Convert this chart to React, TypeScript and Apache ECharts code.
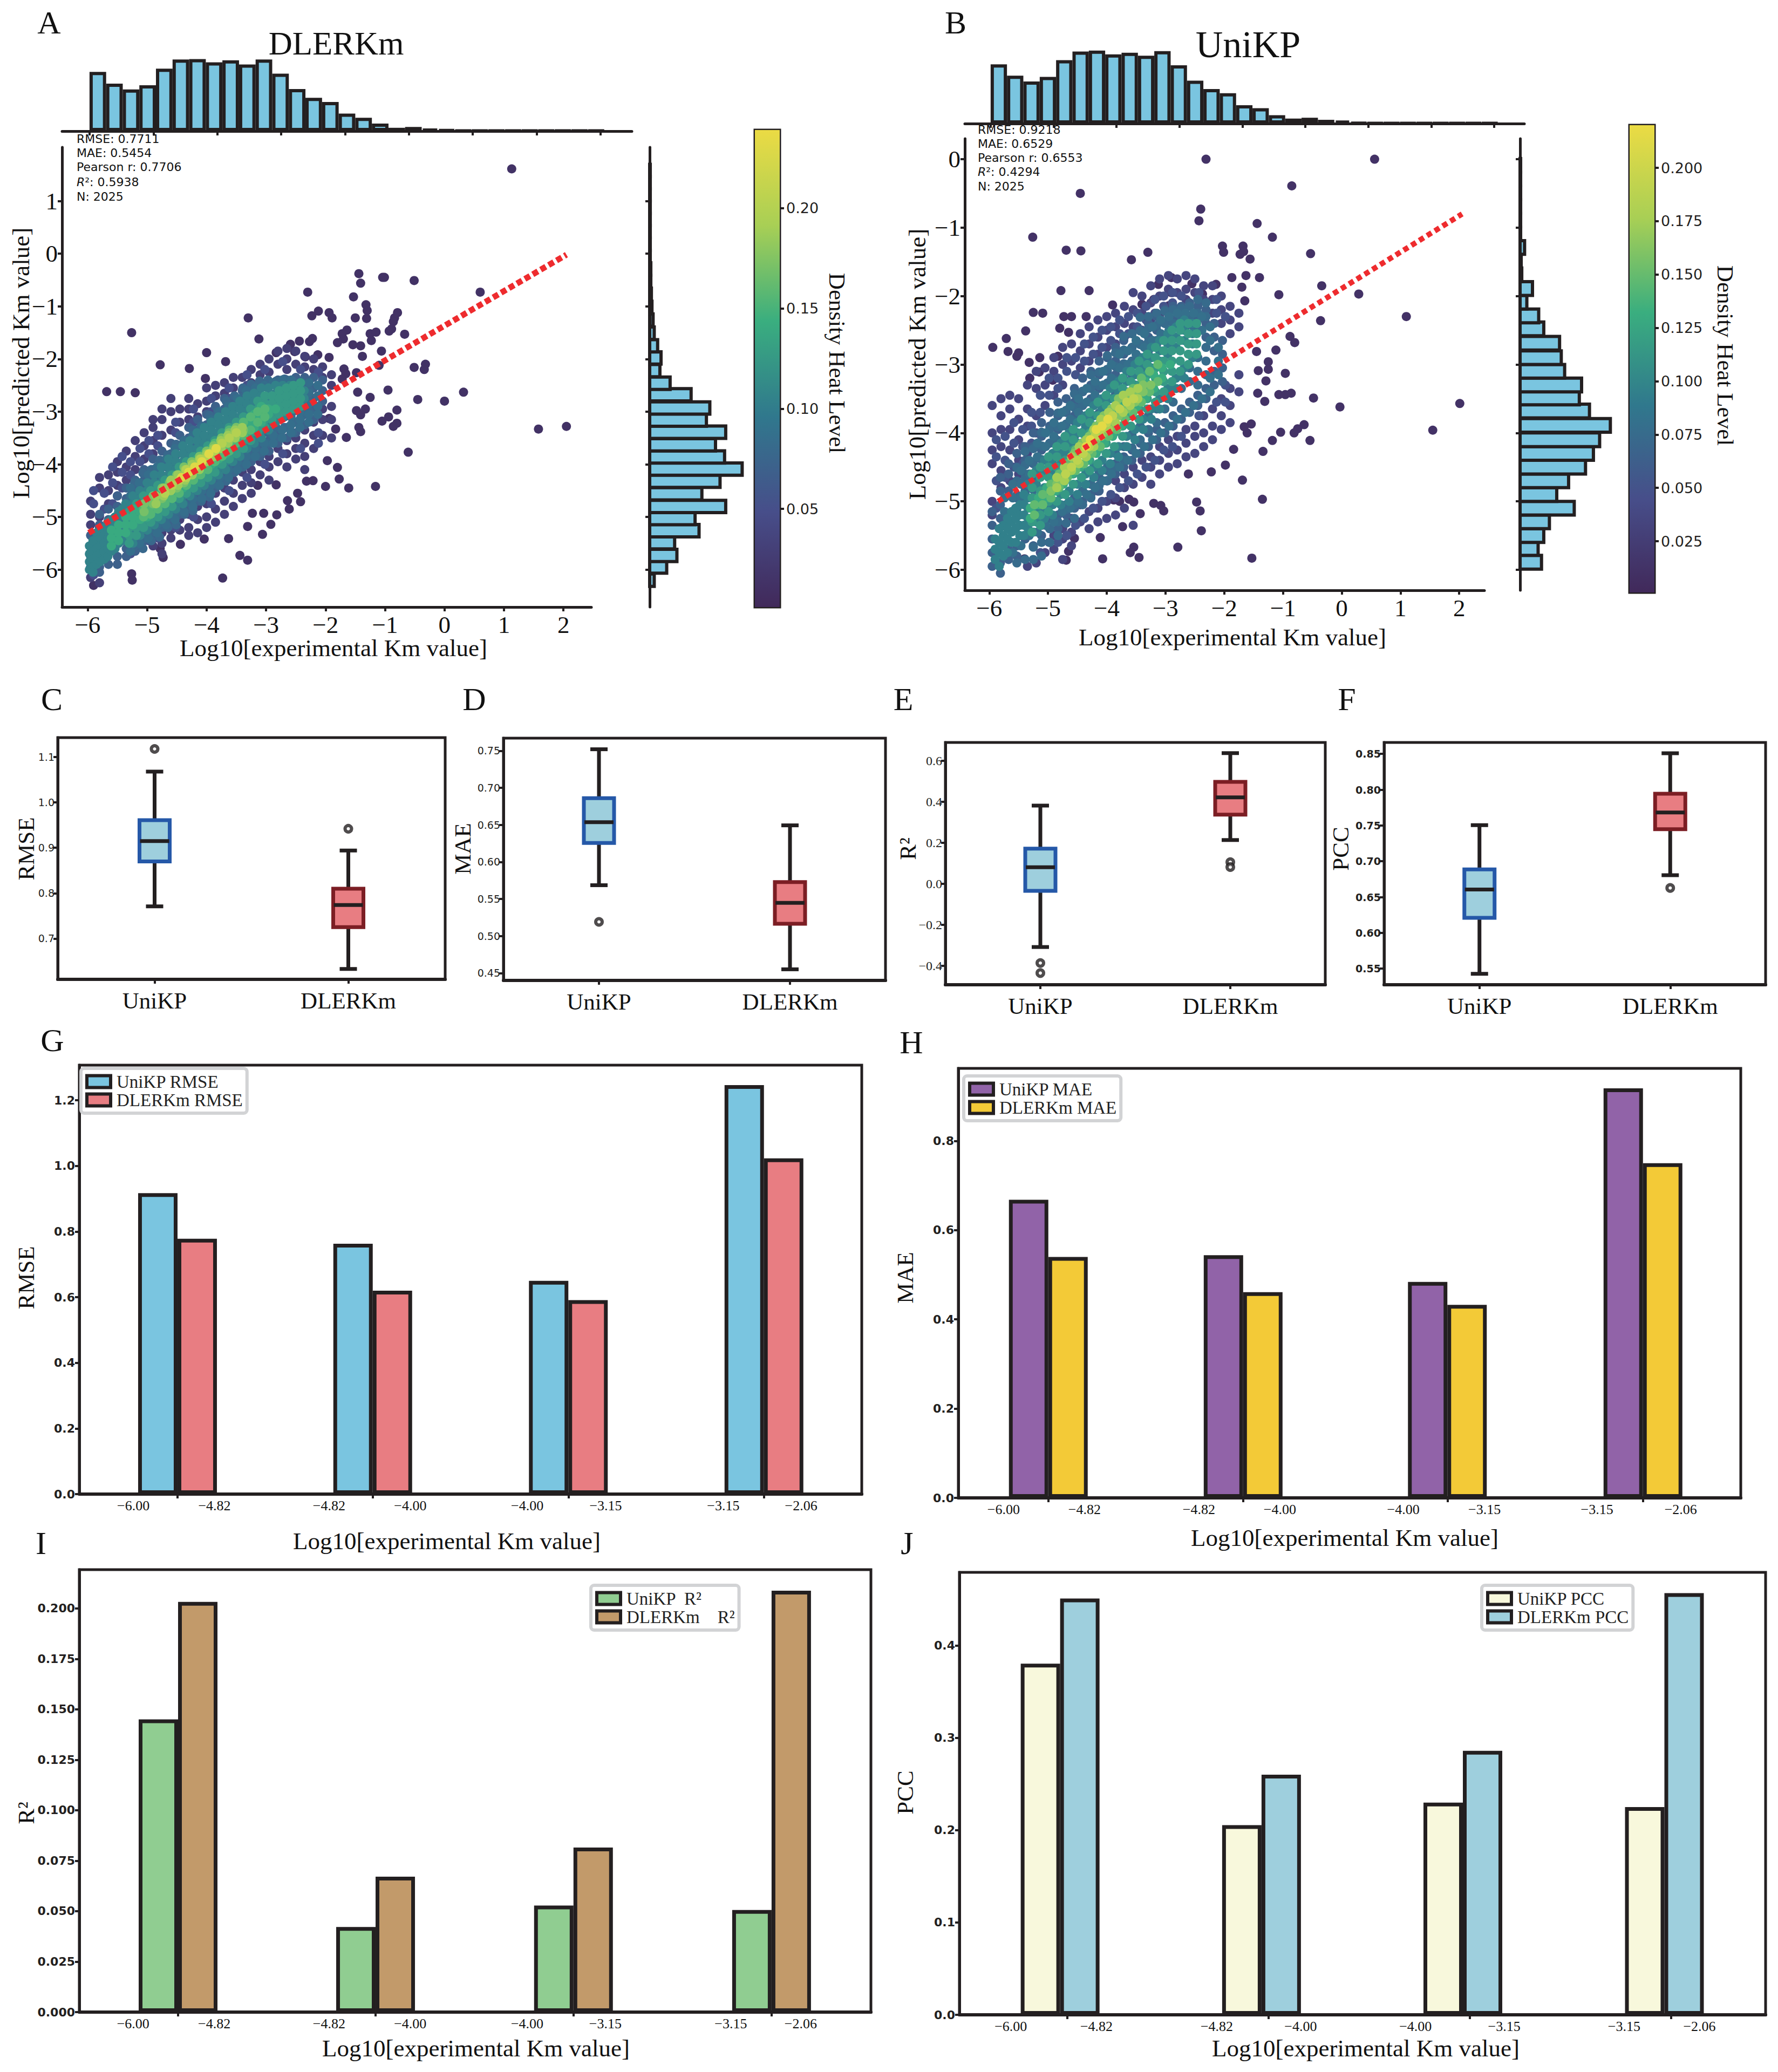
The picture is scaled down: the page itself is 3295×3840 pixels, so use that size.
import React, { useEffect, useRef } from 'react';
import * as echarts from 'echarts';

const INK = '#231f20';
const SERIF = 'Liberation Serif';
const SANS = 'DejaVu Sans';
const HIST = '#7ac5e0';
const VIRIDIS = ['#41295a', '#474e8a', '#30788d', '#3aae7f', '#a8cf55', '#ebdb44'];

// marginal histograms
const aTopBins = [-5.87, -5.61, -5.35, -5.09, -4.83, -4.57, -4.31, -4.05, -3.79, -3.53, -3.27, -3.01, -2.75, -2.49, -2.23, -1.97, -1.71, -1.45, -1.19, -0.93, -0.67, -0.41, -0.15, 0.11, 0.37, 0.63, 0.89, 1.15, 1.41, 1.67, 1.93];
const aTopCounts = [142, 114, 100, 110, 150, 172, 173, 165, 170, 160, 172, 138, 101, 80, 70, 42, 32, 18, 8, 10, 5, 3, 1, 1, 1, 1, 1, 1, 1, 1, 1];
const bTopCounts = [142, 115, 101, 112, 152, 173, 175, 166, 170, 163, 174, 140, 103, 83, 73, 44, 37, 20, 12, 14, 9, 7, 2, 1, 1, 1, 1, 1, 1, 1, 1];
const aRightBins = [-6.2, -5.95, -5.73, -5.49, -5.26, -5.03, -4.8, -4.56, -4.32, -4.09, -3.86, -3.63, -3.39, -3.16, -2.93, -2.68, -2.46, -2.22, -1.98, -1.75, -1.51, -1.26, -1.02, -0.77, -0.53, -0.29, -0.05, 0.18, 0.42, 0.65, 0.88, 1.12, 1.35, 1.58];
const aRightCounts = [8, 30, 48, 44, 87, 80, 134, 92, 124, 163, 132, 116, 134, 100, 106, 73, 36, 18, 20, 14, 8, 6, 4, 3, 2, 2, 1, 1, 1, 1, 1, 1, 1, 1];
const bRightBins = [-5.89, -5.69, -5.5, -5.3, -5.1, -4.9, -4.7, -4.5, -4.3, -4.1, -3.89, -3.68, -3.49, -3.3, -3.1, -2.9, -2.69, -2.48, -2.29, -2.09, -1.89, -1.69, -1.49, -1.29, -1.09, -0.89, -0.69, -0.49, -0.29, -0.09];
const bRightCounts = [38, 32, 42, 52, 96, 65, 86, 116, 130, 141, 160, 123, 105, 109, 79, 73, 70, 42, 33, 12, 22, 3, 2, 8, 1, 1, 1, 1, 1, 1];

// regression lines
const aFit = [[-5.98, -5.3], [2.05, -0.02]];
const bFit = [[-5.85, -5.0], [2.05, -0.8]];

// scatter A: isolated points
const aOutliers = [[1.13, 1.61], [0.6, -0.73], [-0.51, -0.51], [-1.04, -0.45], [-1.01, -0.45], [-1.44, -0.38], [-1.41, -0.56], [-2.3, -0.73], [-1.53, -0.82], [-1.32, -0.97], [-1.3, -1.08], [-0.79, -1.12], [-0.84, -1.22], [-0.86, -1.29], [-1.31, -1.23], [-1.5, -1.22], [-2.12, -1.09], [-2.23, -1.18], [-1.94, -1.12], [-1.89, -1.22], [-3.3, -1.22], [-5.26, -1.5], [-3.12, -1.62], [-1.64, -1.45], [-1.72, -1.52], [-1.25, -1.52], [-1.15, -1.49], [-0.89, -1.43], [-0.93, -1.47], [-0.67, -1.53], [-1.23, -1.65], [-1.7, -1.62], [-1.8, -1.69], [-1.54, -1.73], [-1.41, -1.75], [-1.38, -1.95], [-1.06, -1.85], [-1.1, -2.12], [-0.51, -2.16], [-0.32, -2.1], [-0.34, -2.2], [-4.78, -2.11], [-4.29, -2.18], [-4.0, -1.88], [-3.68, -2.05], [-4.02, -2.37], [-2.83, -1.88], [-2.59, -1.72], [-2.44, -1.66], [-2.27, -1.67], [-2.22, -1.61], [-2.52, -1.86], [-2.13, -1.92], [-2.34, -1.96], [-1.94, -1.97], [-1.69, -2.19], [-1.66, -2.28], [-1.72, -2.38], [-1.48, -2.26], [-0.95, -2.59], [-0.45, -2.77], [0.0, -2.8], [0.32, -2.63], [-1.25, -2.73], [-1.46, -2.63], [-1.33, -2.95], [-0.8, -2.97], [-0.94, -3.1], [-1.05, -3.18], [-0.8, -3.22], [-0.86, -3.28], [-1.48, -2.98], [-1.41, -3.06], [-1.44, -3.3], [-1.41, -3.38], [1.58, -3.33], [2.05, -3.28], [-0.61, -3.77], [-1.16, -4.42], [-1.61, -4.45], [-1.77, -4.28], [-2.0, -4.42], [-1.8, -4.06], [-1.97, -3.93], [-1.65, -3.49], [-1.83, -3.33], [-1.94, -3.13], [-3.73, -6.16], [-3.44, -5.73], [-3.31, -5.82], [-5.26, -6.08], [-5.25, -6.2], [-3.63, -5.41], [-3.06, -5.33], [-3.31, -5.18], [-4.04, -5.42], [-4.44, -5.52], [-4.78, -5.6], [-4.73, -5.77], [-3.23, -4.93], [-2.92, -5.14], [-2.82, -4.96], [-3.04, -4.93], [-2.61, -4.85], [-2.42, -4.71], [-2.64, -4.69], [-2.47, -4.55], [-2.83, -4.39], [-3.14, -4.4], [-2.32, -4.32], [-2.21, -4.31], [-5.9, -6.3], [-5.68, -2.62], [-5.45, -2.62], [-5.2, -2.64]];
// scatter A: columns of [x, y, y, ...], by density level
const aRows030 = [[-5.95, -4.7, -4.95, -5.15, -6.15], [-5.8, -4.25, -4.45, -5.0, -5.2, -6.25], [-5.65, -4.2, -4.5, -4.75], [-5.5, -3.95, -4.15, -4.4, -4.6], [-5.35, -3.75, -4.05, -4.3], [-5.2, -3.55, -3.85, -4.1, -4.35], [-5.05, -3.4, -3.65, -3.9, -5.45], [-4.9, -3.15, -3.3, -3.55, -3.8, -5.55], [-4.75, -2.95, -3.15, -3.45, -5.3, -5.5, -5.7], [-4.6, -2.75, -3.0, -3.35, -5.25, -5.4], [-4.45, -2.95, -3.2, -5.05, -5.25], [-4.3, -2.75, -2.95, -3.15, -4.95, -5.2, -5.35], [-4.15, -2.85, -3.1, -4.8, -5.05, -5.3], [-4.0, -2.55, -2.8, -3.0, -4.75, -5.0, -5.2], [-3.85, -2.5, -2.7, -4.55, -4.85, -5.1], [-3.7, -2.45, -2.65, -4.45, -4.7, -4.95], [-3.55, -2.35, -2.55, -4.3, -4.55, -4.8], [-3.4, -2.35, -4.15, -4.4, -4.65], [-3.25, -2.2, -2.45, -4.1, -4.35, -4.55], [-3.1, -2.1, -2.3, -3.95, -4.2], [-2.95, -2.0, -2.25, -3.85, -4.05, -4.3], [-2.8, -1.85, -2.1, -3.7, -3.95], [-2.65, -1.8, -2.0, -2.2, -3.55, -3.8, -4.05], [-2.5, -1.85, -2.1, -3.5, -3.7, -3.9], [-2.35, -1.95, -2.15, -3.35, -3.6, -3.85, -4.1], [-2.2, -2.0, -2.2, -3.2, -3.45, -3.7], [-2.05, -2.15, -2.35, -2.95, -3.15, -3.45], [-1.9, -2.3, -2.5, -2.9, -3.15, -3.5]];
const aRows050 = [[-5.9, -4.5, -4.75, -6.1], [-5.72, -4.55, -4.85], [-5.58, -4.05, -4.35, -4.75], [-5.42, -3.85, -4.15, -4.45], [-5.28, -3.95, -4.2, -5.7], [-5.12, -3.7, -3.95, -5.55], [-4.97, -3.55, -3.8, -5.45], [-4.82, -3.45, -3.65, -5.4], [-4.52, -3.2, -3.4, -5.2], [-4.22, -2.95, -3.2, -5.0], [-3.92, -2.75, -3.0, -4.75], [-3.62, -2.55, -2.75, -4.5], [-3.32, -2.3, -2.5, -4.25], [-3.02, -2.2, -4.0], [-2.72, -2.05, -3.8], [-2.42, -2.2, -3.7], [-2.12, -2.25, -3.4, -3.6]];
const aRows070 = [[-5.95, -5.35, -5.55, -5.75, -5.95], [-5.8, -4.95, -5.15, -5.45, -5.95, -6.05], [-5.65, -4.85, -5.05, -5.9], [-5.5, -4.6, -4.8, -5.75, -5.9], [-5.35, -4.45, -4.65, -5.6, -5.75], [-5.2, -4.3, -4.5, -5.5, -5.65], [-5.05, -4.1, -4.3, -5.3, -5.45], [-4.9, -3.9, -4.1, -5.2, -5.35], [-4.75, -3.75, -3.95, -5.05, -5.2], [-4.6, -3.6, -3.8, -4.9, -5.1], [-4.45, -3.45, -3.65, -4.8, -4.95], [-4.3, -3.3, -3.5, -4.65, -4.8], [-4.15, -3.15, -3.35, -4.55, -4.7], [-4.0, -3.05, -3.25, -4.45, -4.6], [-3.85, -2.9, -3.1, -4.3, -4.45], [-3.7, -2.75, -2.95, -4.15, -4.3], [-3.55, -2.75, -2.95, -4.0, -4.15], [-3.4, -2.6, -2.8, -3.85, -4.0], [-3.25, -2.5, -2.7, -3.8, -3.95], [-3.1, -2.45, -3.65, -3.85], [-2.95, -2.45, -3.55, -3.75], [-2.8, -2.4, -3.4, -3.6], [-2.65, -2.4, -3.3, -3.5], [-2.5, -2.35, -3.2, -3.4], [-2.35, -2.35, -2.55, -3.05, -3.25], [-2.2, -2.35, -2.55, -2.75, -2.95, -3.15], [-2.05, -2.4, -2.6, -2.8]];
const aRows078 = [[-5.21, -4.75, -4.55, -4.35, -5.55], [-5.07, -4.57, -4.37, -4.17, -5.42, -5.6], [-4.93, -4.5, -4.3, -4.1, -5.3, -5.45], [-4.79, -4.32, -4.12, -3.92, -5.2, -5.38], [-4.65, -4.22, -4.02, -3.82, -5.02, -5.2], [-4.51, -4.02, -3.82, -3.62, -4.95, -5.15], [-4.37, -3.95, -3.75, -3.55, -4.75, -4.95], [-4.23, -3.75, -3.55, -3.35, -4.7, -4.88], [-4.09, -3.67, -3.47, -3.27, -4.5, -4.7], [-3.95, -3.47, -3.27, -3.07, -4.42, -4.62], [-3.81, -3.4, -3.2, -3.0, -4.2, -4.4], [-3.67, -3.2, -3.0, -2.8, -4.12, -4.32], [-3.53, -3.1, -2.9, -2.7, -3.95, -4.15], [-3.39, -2.9, -2.72, -2.55, -3.85, -4.05], [-3.25, -2.85, -2.65, -2.48, -3.65, -3.85], [-3.11, -2.6, -2.42, -3.58, -3.78], [-2.97, -2.55, -2.4, -3.4, -3.6], [-2.83, -2.42, -3.3, -3.5], [-2.69, -2.38, -3.1, -3.3], [-2.55, -2.42, -3.0, -3.2, -3.4], [-2.41, -2.42, -2.62, -2.9, -3.1], [-2.27, -2.6, -2.8, -3.0]];
const aRows085 = [[-5.28, -4.45, -4.6, -4.75, -5.5, -5.65], [-5.13, -4.35, -4.5, -5.35, -5.5], [-4.98, -4.2, -4.35, -5.25, -5.4], [-4.83, -4.05, -4.2, -5.15, -5.3], [-4.68, -3.9, -4.05, -5.0, -5.15], [-4.53, -3.7, -3.85, -4.9, -5.05], [-4.38, -3.55, -3.7, -4.75, -4.9], [-4.23, -3.45, -3.6, -4.65, -4.8], [-4.08, -3.3, -3.45, -4.5, -4.65], [-3.93, -3.15, -3.3, -4.4, -4.55], [-3.78, -3.0, -3.15, -4.25, -4.4], [-3.63, -2.9, -3.05, -4.1, -4.25], [-3.48, -2.75, -2.9, -3.95, -4.1], [-3.33, -2.6, -2.75, -3.85, -4.0], [-3.18, -2.55, -3.7, -3.85], [-3.03, -2.5, -3.6, -3.75], [-2.88, -2.45, -3.45, -3.6], [-2.73, -2.4, -3.35, -3.5], [-2.58, -2.4, -3.1, -3.25, -3.4], [-2.43, -2.45, -3.0, -3.15, -3.3], [-2.28, -2.45, -2.65, -2.85, -3.05, -3.2], [-2.13, -2.5, -2.7, -2.9, -3.05]];
const aRows105 = [[-5.97, -5.55, -5.7, -5.85, -6.0], [-5.91, -5.45, -5.65, -5.8, -5.95, -6.05], [-5.85, -5.3, -5.45, -5.6, -5.75, -5.9], [-5.79, -5.25, -5.4, -5.55, -5.7, -5.85], [-5.72, -5.2, -5.35, -5.5, -5.65, -5.8], [-5.66, -5.1, -5.25, -5.4, -5.6, -5.75], [-5.6, -5.05, -5.2, -5.35, -5.5, -5.65], [-5.54, -5.0, -5.15, -5.3, -5.45, -5.6], [-5.48, -4.9, -5.05, -5.2, -5.35, -5.5], [-5.42, -4.85, -5.0, -5.15, -5.3, -5.45], [-5.36, -4.75, -4.9, -5.05, -5.2, -5.35], [-5.24, -4.6, -4.75, -4.9, -5.25, -5.4, -5.5], [-5.12, -4.5, -4.65, -4.8, -5.2, -5.35], [-5.0, -4.35, -4.5, -4.65, -5.1, -5.25], [-4.88, -4.2, -4.35, -4.5, -5.0, -5.15], [-4.76, -4.05, -4.2, -4.35, -4.9, -5.05], [-4.64, -3.9, -4.05, -4.2, -4.8, -4.95], [-4.52, -3.8, -3.95, -4.1, -4.7, -4.85], [-4.4, -3.65, -3.8, -3.95, -4.6, -4.75], [-4.28, -3.55, -3.7, -3.85, -4.45, -4.6], [-4.16, -3.4, -3.55, -3.7, -4.35, -4.5], [-4.04, -3.3, -3.45, -3.6, -4.25, -4.4], [-3.92, -3.2, -3.35, -3.5, -4.15, -4.3], [-3.8, -3.1, -3.25, -3.4, -4.05, -4.2], [-3.68, -3.0, -3.15, -3.3, -3.95, -4.1], [-3.56, -2.9, -3.05, -3.2, -3.8, -3.95], [-3.44, -2.8, -2.95, -3.1, -3.7, -3.85], [-3.32, -2.7, -2.85, -3.0, -3.55, -3.7], [-3.2, -2.65, -2.8, -2.95, -3.45, -3.6], [-3.08, -2.55, -2.7, -3.35, -3.5], [-2.96, -2.55, -2.7, -2.85, -3.2, -3.35], [-2.84, -2.5, -2.65, -2.8, -3.05, -3.2], [-2.72, -2.5, -2.65, -2.8, -2.95, -3.1], [-2.6, -2.5, -2.65, -2.8, -2.95], [-2.48, -2.55, -2.7, -2.85], [-2.36, -2.6, -2.75]];
const aRows125 = [[-5.3, -5.5, -5.35, -5.2, -5.05, -4.9], [-5.18, -5.35, -5.2, -5.05, -4.9, -4.75], [-5.06, -5.2, -5.05, -4.9, -4.75, -4.6], [-4.94, -5.1, -4.95, -4.8, -4.65, -4.5], [-4.82, -5.0, -4.85, -4.7, -4.55, -4.4], [-4.7, -4.9, -4.75, -4.6, -4.45, -4.3], [-4.58, -4.8, -4.65, -4.5, -4.35, -4.2], [-4.46, -4.65, -4.5, -4.35, -4.2, -4.05], [-4.34, -4.55, -4.4, -4.25, -4.1, -3.95], [-4.22, -4.45, -4.3, -4.15, -4.0, -3.85], [-4.1, -4.35, -4.2, -4.05, -3.9, -3.75], [-3.98, -4.25, -4.1, -3.95, -3.8, -3.65], [-3.86, -4.15, -4.0, -3.85, -3.7, -3.55], [-3.74, -4.0, -3.85, -3.7, -3.55, -3.4], [-3.62, -3.9, -3.75, -3.6, -3.45, -3.3], [-3.5, -3.8, -3.65, -3.5, -3.35, -3.2], [-3.38, -3.7, -3.55, -3.4, -3.25, -3.1], [-3.26, -3.55, -3.4, -3.25, -3.1, -2.95], [-3.14, -3.4, -3.25, -3.1, -2.95, -2.8], [-3.02, -3.3, -3.15, -3.0, -2.85, -2.7], [-2.9, -3.15, -3.0, -2.85, -2.7], [-2.78, -3.05, -2.9, -2.75, -2.6], [-2.66, -3.0, -2.85, -2.7, -2.55], [-2.54, -2.95, -2.8, -2.65, -2.5], [-2.42, -2.9, -2.75, -2.6, -2.45]];
const aRows140 = [[-5.6, -5.55, -5.4, -5.25], [-5.48, -5.45, -5.3, -5.15], [-5.36, -5.3, -5.15, -5.0], [-5.24, -5.15, -5.0, -4.85], [-5.12, -5.05, -4.9], [-5.0, -5.0, -4.85, -4.75], [-4.88, -4.85, -4.7], [-4.76, -4.75, -4.55], [-4.64, -4.65, -4.5, -4.35], [-4.52, -4.55, -4.25], [-4.4, -4.45, -4.15], [-4.28, -4.3, -4.05], [-4.16, -4.2, -3.9], [-4.04, -4.1, -3.8], [-3.92, -4.0, -3.7], [-3.8, -3.9, -3.6], [-3.68, -3.8, -3.5], [-3.56, -3.65, -3.35], [-3.44, -3.55, -3.3], [-3.32, -3.4, -3.2], [-3.2, -3.3, -3.15, -3.05], [-3.08, -3.2, -3.05, -2.9], [-2.96, -3.05, -2.95], [-2.84, -2.95]];
const aRows155 = [[-5.06, -5.0, -4.85], [-4.94, -4.95, -4.8], [-4.82, -4.85, -4.7], [-4.7, -4.75, -4.6, -4.45], [-4.58, -4.65, -4.35], [-4.46, -4.55, -4.2], [-4.34, -4.4, -4.1], [-4.22, -4.3, -4.0], [-4.1, -4.2, -3.85], [-3.98, -4.1, -3.75], [-3.86, -3.95, -3.6], [-3.74, -3.85, -3.5], [-3.62, -3.75, -3.35], [-3.5, -3.6, -3.3], [-3.38, -3.45, -3.2], [-3.26, -3.35, -3.1], [-3.14, -3.2, -3.0], [-3.02, -3.1, -2.95]];
const aRows170 = [[-5.05, -4.75, -4.9], [-4.9, -4.6, -4.75], [-4.75, -4.65, -4.45], [-4.62, -4.5, -4.35], [-4.5, -4.45, -4.2], [-4.38, -4.35, -4.05], [-4.25, -4.2, -3.95], [-4.12, -4.05, -3.85], [-4.0, -3.95, -3.75], [-3.88, -3.85, -3.65], [-3.75, -3.7, -3.5], [-3.62, -3.55, -3.4], [-3.5, -3.45, -3.3], [-3.38, -3.35]];
const aRows185 = [[-4.85, -4.75, -4.6], [-4.72, -4.6, -4.45], [-4.6, -4.5, -4.3], [-4.48, -4.4, -4.2], [-4.36, -4.3, -4.1], [-4.24, -4.2, -4.0], [-4.12, -4.1, -3.9], [-4.0, -3.95, -3.8], [-3.88, -3.85, -3.7], [-3.76, -3.7, -3.55], [-3.64, -3.6, -3.45], [-3.52, -3.5, -3.35], [-3.4, -3.4, -3.3]];
const aRows200 = [[-4.7, -4.55], [-4.58, -4.4], [-4.46, -4.3], [-4.34, -4.25, -4.1], [-4.22, -4.1], [-4.1, -4.0, -3.9], [-3.98, -3.85], [-3.86, -3.75], [-3.74, -3.6], [-3.62, -3.5], [-3.5, -3.4]];
const aRows230 = [[-4.42, -4.25], [-4.3, -4.15], [-4.2, -4.05], [-4.08, -3.95], [-3.96, -3.8], [-3.84, -3.7]];

// scatter B: isolated points
const bOutliers = [[-2.31, 0], [0.56, 0], [-0.85, -0.39], [-4.45, -0.5], [-2.4, -0.73], [-2.43, -0.9], [-1.44, -0.94], [-1.18, -1.14], [-5.26, -1.14], [-4.69, -1.33], [-4.44, -1.34], [-3.3, -1.36], [-3.58, -1.47], [-2.03, -1.27], [-2.01, -1.36], [-1.68, -1.27], [-1.67, -1.35], [-1.73, -1.39], [-1.56, -1.46], [-0.53, -1.38], [-1.63, -1.7], [-1.87, -1.73], [-1.4, -1.73], [-2.14, -1.83], [-1.7, -1.87], [-0.34, -1.85], [-1.07, -1.98], [0.29, -1.97], [-1.65, -2.07], [-2.9, -1.73], [-3.12, -1.83], [-2.9, -1.95], [-2.55, -1.82], [-2.37, -1.97], [-3.2, -2.05], [-2.94, -2.14], [-3.4, -2.12], [-3.9, -2.13], [-4.78, -1.92], [-4.3, -1.92], [-5.25, -2.24], [-5.09, -2.25], [-4.73, -2.3], [-4.6, -2.3], [-4.35, -2.3], [-5.38, -2.51], [-4.8, -2.47], [-4.65, -2.53], [-5.71, -2.62], [-5.94, -2.75], [-5.68, -2.81], [-5.5, -2.83], [-5.53, -2.88], [-5.14, -2.9], [-5.32, -2.97], [-4.83, -2.88], [-5.15, -3.11], [-5.31, -3.2], [-4.92, -3.23], [1.1, -2.3], [-0.36, -2.36], [-0.88, -2.59], [-0.8, -2.68], [-1.12, -2.79], [-1.45, -2.81], [-1.25, -2.96], [-1.25, -3.07], [-1.42, -3.09], [-0.96, -3.13], [-1.29, -3.24], [-1.43, -3.42], [-1.31, -3.54], [-1.07, -3.44], [-0.96, -3.44], [-0.86, -3.42], [-0.48, -3.49], [-0.03, -3.62], [2.01, -3.57], [1.55, -3.96], [-0.64, -3.88], [-0.75, -3.94], [-0.81, -4.0], [-0.54, -4.11], [-1.04, -3.99], [-1.18, -4.11], [-1.54, -3.87], [-1.66, -3.91], [-1.61, -4.0], [-1.34, -4.27], [-1.84, -4.24], [-1.98, -4.47], [-2.22, -4.57], [-1.69, -4.69], [-2.61, -4.6], [-1.35, -4.97], [-2.47, -5.01], [-2.41, -5.14], [-2.39, -5.43], [-2.79, -5.67], [-1.53, -5.83], [-3.45, -5.82], [-3.54, -5.67], [-3.6, -5.75], [-4.07, -5.84], [-4.11, -5.53], [-4.55, -5.54], [-4.69, -5.86], [-4.65, -5.73], [-5.4, -5.84], [-3.73, -5.37], [-3.88, -4.98], [-3.78, -5.0], [-3.62, -4.97], [-3.54, -5.01], [-3.43, -5.18], [-3.2, -5.03], [-3.08, -5.06], [-3.03, -5.14]];
const bRows035 = [[-5.95, -3.6, -4.0, -4.25, -4.45, -5.0, -5.2], [-5.8, -3.5, -3.75, -3.95, -4.2, -4.55, -4.8], [-5.65, -3.45, -3.65, -3.95, -4.25, -4.7], [-5.5, -3.5, -3.8, -4.1, -4.4, -4.6], [-5.35, -3.3, -3.65, -3.9, -4.3, -5.95], [-5.2, -3.1, -3.35, -3.75, -4.0, -5.9], [-5.05, -3.05, -3.3, -3.6, -5.75], [-4.9, -2.9, -3.1, -3.45, -5.5, -5.7], [-4.75, -2.75, -3.0, -3.3, -5.4, -5.55, -5.85], [-4.6, -2.7, -2.95, -5.25, -5.45, -5.65], [-4.45, -2.55, -2.8, -3.05, -5.05, -5.3], [-4.3, -2.45, -2.7, -2.95, -5.15, -5.4], [-4.15, -2.35, -2.6, -2.85, -4.85, -5.1, -5.3], [-4.0, -2.3, -2.5, -2.75, -4.7, -5.0, -5.25], [-3.85, -2.25, -2.45, -2.7, -4.7, -4.95, -5.2], [-3.7, -2.15, -2.4, -2.6, -4.6, -4.8, -5.1], [-3.55, -1.95, -2.2, -2.45, -4.5, -4.75, -5.35], [-3.4, -2.0, -2.25, -2.5, -4.4, -4.65], [-3.25, -1.85, -2.1, -2.35, -4.35, -4.5, -4.75], [-3.1, -1.75, -2.0, -2.3, -4.2, -4.4, -4.6], [-2.95, -1.7, -1.9, -4.1, -4.3, -4.5], [-2.8, -1.75, -1.95, -4.05, -4.25, -4.45], [-2.65, -1.7, -1.9, -2.05, -3.95, -4.15, -4.35], [-2.5, -1.75, -1.95, -3.9, -4.05, -4.3], [-2.35, -1.85, -2.05, -3.75, -4.0, -4.2], [-2.2, -1.85, -2.05, -2.25, -3.65, -3.9, -4.1], [-2.05, -2.0, -2.2, -2.4, -3.5, -3.75, -3.95], [-1.9, -2.15, -2.35, -2.55, -3.35, -3.6, -3.85], [-1.75, -2.25, -2.45, -3.15, -3.4]];
const bRows050 = [[-5.88, -4.1, -4.35, -4.7, -5.1], [-5.73, -4.05, -4.4, -4.65], [-5.58, -3.85, -4.15, -4.5], [-5.43, -3.95, -4.2, -4.45], [-5.28, -3.7, -3.9, -4.15], [-5.13, -3.45, -3.7, -5.75], [-4.98, -3.2, -3.45, -5.6], [-4.83, -3.2, -3.35, -5.6], [-4.68, -2.9, -3.1, -5.5], [-4.53, -2.9, -3.15, -5.35], [-4.38, -2.7, -2.95, -5.25], [-4.23, -2.6, -2.85, -5.1], [-4.08, -2.5, -2.75, -5.0], [-3.93, -2.45, -2.65, -4.9], [-3.78, -2.35, -2.55, -4.8], [-3.63, -2.3, -2.55, -4.7], [-3.48, -2.25, -2.45, -4.6], [-3.33, -2.15, -2.35, -4.5], [-3.18, -2.05, -2.25, -4.4], [-3.03, -2.0, -2.15, -4.25], [-2.88, -1.95, -2.1, -4.2], [-2.73, -2.0, -4.05], [-2.43, -1.95, -2.1, -3.75], [-2.13, -2.05, -2.25, -3.55], [-1.98, -2.3, -3.3, -3.55]];
const bRows065 = [[-5.95, -5.15, -5.35, -5.55, -5.75, -5.95], [-5.81, -4.65, -4.85, -5.05, -5.25, -5.9, -6.05], [-5.67, -4.45, -4.6, -4.85, -5.7, -5.85], [-5.53, -4.3, -4.5, -4.7, -4.95, -5.65, -5.8], [-5.39, -4.2, -4.4, -4.6, -4.85, -5.55], [-5.25, -4.0, -4.2, -4.45, -4.7, -5.45, -5.65], [-5.11, -3.85, -4.05, -4.25, -5.35, -5.5], [-4.97, -3.7, -3.9, -4.15, -5.25, -5.4], [-4.83, -3.55, -3.75, -3.95, -5.2, -5.4], [-4.69, -3.5, -3.7, -3.9, -5.05, -5.2], [-4.55, -3.35, -3.55, -3.75, -4.95, -5.1], [-4.41, -3.2, -3.4, -3.6, -4.85, -5.0], [-4.27, -3.1, -3.3, -3.5, -4.75, -4.9], [-4.13, -2.95, -3.15, -3.35, -4.65, -4.85], [-3.99, -2.9, -3.1, -3.3, -4.55, -4.7], [-3.85, -2.75, -2.95, -3.15, -4.45, -4.6], [-3.71, -2.65, -2.85, -3.05, -4.35, -4.5], [-3.57, -2.55, -2.75, -2.95, -4.25, -4.4], [-3.43, -2.5, -2.7, -2.9, -4.15, -4.3], [-3.29, -2.4, -2.6, -2.8, -4.0, -4.2], [-3.15, -2.3, -2.5, -2.7, -3.95, -4.1], [-3.01, -2.2, -2.4, -3.85, -4.0], [-2.87, -2.15, -2.35, -3.75, -3.9], [-2.73, -2.15, -2.35, -3.65, -3.8], [-2.59, -2.1, -2.3, -3.55, -3.7], [-2.45, -2.15, -2.35, -3.45, -3.6], [-2.31, -2.2, -2.4, -2.6, -3.35, -3.5], [-2.17, -2.4, -2.6, -2.8, -3.1, -3.3], [-2.03, -2.65, -2.85, -3.05, -3.25]];
const bRows075 = [[-5.53, -5.11, -4.91, -4.71, -4.51, -5.9], [-5.39, -4.89, -4.67, -4.47, -4.27, -5.85], [-5.25, -4.83, -4.63, -4.43, -4.23, -5.67, -5.85], [-5.11, -4.61, -4.39, -4.19, -3.99, -5.6, -5.8], [-4.97, -4.55, -4.35, -4.15, -3.95, -5.4, -5.6], [-4.83, -4.33, -4.11, -3.91, -3.71, -5.3, -5.5], [-4.69, -4.27, -4.07, -3.87, -3.67, -5.12, -5.32], [-4.55, -4.05, -3.83, -3.63, -3.43, -5.05, -5.25], [-4.41, -3.99, -3.79, -3.59, -3.39, -4.85, -5.05], [-4.27, -3.77, -3.55, -3.35, -3.15, -4.75, -4.95], [-4.13, -3.71, -3.51, -3.31, -3.11, -4.57, -4.77], [-3.99, -3.49, -3.27, -3.07, -2.87, -4.5, -4.7], [-3.85, -3.43, -3.23, -3.03, -2.83, -4.3, -4.5], [-3.71, -3.21, -2.99, -2.79, -2.59, -4.2, -4.4], [-3.57, -3.15, -2.95, -2.75, -2.55, -4.02, -4.22], [-3.43, -2.93, -2.71, -2.51, -2.31, -3.9, -4.1], [-3.29, -2.87, -2.67, -2.47, -2.3, -3.75, -3.95], [-3.15, -2.65, -2.43, -2.25, -3.65, -3.85], [-3.01, -2.6, -2.4, -2.22, -3.45, -3.65], [-2.87, -2.4, -2.2, -3.35, -3.55], [-2.73, -2.32, -2.18, -3.15, -3.35], [-2.59, -2.15, -2.3, -3.05, -3.25], [-2.45, -2.05, -2.25, -2.9, -3.1, -3.3], [-2.31, -2.1, -2.3, -2.75, -2.95, -3.15]];
const bRows080 = [[-5.74, -4.95, -5.15, -5.35], [-5.6, -4.75, -4.95, -5.75], [-5.46, -4.55, -4.75, -4.95, -5.65], [-5.32, -4.4, -4.6, -5.5], [-5.18, -4.15, -4.35, -5.45], [-5.04, -4.0, -4.2, -5.35], [-4.9, -3.85, -4.05, -5.3], [-4.76, -3.7, -3.9, -5.15], [-4.62, -3.6, -3.8, -5.1], [-4.48, -3.5, -3.7, -5.0], [-4.34, -3.35, -3.55, -4.9], [-4.2, -3.25, -3.45, -4.8], [-4.06, -3.1, -3.3, -4.7], [-3.92, -3.0, -3.2, -4.6], [-3.78, -2.85, -3.05, -4.5], [-3.64, -2.8, -3.0, -4.4], [-3.5, -2.65, -2.85, -4.3], [-3.36, -2.55, -2.75, -4.2], [-3.22, -2.45, -2.65, -4.1], [-3.08, -2.35, -2.55, -4.0], [-2.94, -2.3, -2.5, -3.9], [-2.8, -2.25, -2.45, -3.8], [-2.66, -2.25, -2.45, -3.7], [-2.52, -2.25, -2.45, -3.6], [-2.38, -2.3, -2.5, -3.5], [-2.24, -2.45, -2.65, -3.2, -3.4], [-2.1, -2.75, -2.95, -3.15]];
const bRows095 = [[-5.9, -5.55, -5.7, -5.85], [-5.83, -5.4, -5.6, -5.75, -5.95], [-5.76, -5.35, -5.5, -5.65, -5.8], [-5.69, -5.25, -5.4, -5.55, -5.75], [-5.62, -5.15, -5.3, -5.45, -5.6], [-5.55, -5.1, -5.25, -5.4, -5.6], [-5.48, -5.05, -5.2, -5.35, -5.5], [-5.41, -4.9, -5.05, -5.2, -5.35, -5.5], [-5.34, -4.75, -4.95, -5.1, -5.25, -5.4], [-5.2, -4.55, -4.75, -4.95, -5.15, -5.3], [-5.06, -4.4, -4.6, -4.8, -5.1, -5.25], [-4.92, -4.3, -4.45, -4.6, -5.05, -5.2], [-4.78, -4.15, -4.3, -4.45, -4.9, -5.05], [-4.64, -4.0, -4.15, -4.3, -4.85, -5.0], [-4.5, -3.85, -4.0, -4.15, -4.75, -4.9], [-4.36, -3.75, -3.9, -4.05, -4.6, -4.75], [-4.22, -3.6, -3.75, -3.9, -4.5, -4.65], [-4.08, -3.5, -3.65, -3.8, -4.4, -4.55], [-3.94, -3.35, -3.5, -3.65, -4.3, -4.45], [-3.8, -3.25, -3.4, -3.55, -4.2, -4.35], [-3.66, -3.1, -3.25, -3.4, -4.05, -4.2], [-3.52, -3.0, -3.15, -3.3, -3.95, -4.1], [-3.38, -2.9, -3.05, -3.2, -3.8, -3.95], [-3.24, -2.75, -2.9, -3.05, -3.65, -3.8], [-3.1, -2.65, -2.8, -2.95, -3.5, -3.65], [-2.96, -2.55, -2.7, -2.85, -3.35, -3.5], [-2.82, -2.45, -2.6, -2.75, -3.2, -3.35], [-2.68, -2.35, -2.5, -2.65, -3.05, -3.2], [-2.54, -2.4, -2.55, -2.7, -2.9]];
const bRows115 = [[-5.27, -5.45, -5.3, -5.1, -4.95, -4.8, -4.6], [-5.13, -5.35, -5.2, -5.0, -4.85, -4.65, -4.5], [-4.99, -5.15, -5.0, -4.85, -4.65, -4.5, -4.35], [-4.85, -5.0, -4.85, -4.65, -4.5, -4.35, -4.2], [-4.71, -4.9, -4.7, -4.55, -4.4, -4.2, -4.05], [-4.57, -4.75, -4.6, -4.45, -4.25, -4.1, -3.95], [-4.43, -4.65, -4.5, -4.3, -4.15, -4.0, -3.8], [-4.29, -4.55, -4.4, -4.2, -4.0, -3.85, -3.7], [-4.15, -4.45, -4.25, -4.1, -3.9, -3.75, -3.55], [-4.01, -4.3, -4.15, -3.95, -3.8, -3.6, -3.45], [-3.87, -4.2, -4.0, -3.85, -3.65, -3.5, -3.3], [-3.73, -4.05, -3.9, -3.7, -3.55, -3.35, -3.2], [-3.59, -3.9, -3.75, -3.6, -3.4, -3.25, -3.1], [-3.45, -3.8, -3.65, -3.45, -3.3, -3.1, -2.95], [-3.31, -3.65, -3.5, -3.35, -3.15, -3.0, -2.85], [-3.17, -3.55, -3.4, -3.2, -3.05, -2.9, -2.75], [-3.03, -3.4, -3.25, -3.1, -2.95, -2.8, -2.65], [-2.89, -3.25, -3.1, -2.95, -2.8, -2.65, -2.5], [-2.75, -3.1, -2.95, -2.8, -2.65, -2.5, -2.4], [-2.61, -3.0, -2.85, -2.7, -2.55, -2.4], [-2.47, -2.85, -2.7, -2.55, -2.4]];
const bRows130 = [[-5.3, -5.1, -5.25], [-5.16, -4.95, -5.05], [-5.02, -4.8, -4.95], [-4.88, -4.7, -4.85], [-4.74, -4.55, -4.75], [-4.6, -4.4, -4.6], [-4.46, -4.25, -4.5], [-4.32, -4.1, -4.4], [-4.18, -4.0, -4.3], [-4.04, -3.9, -4.15], [-3.9, -3.75, -4.05], [-3.76, -3.6, -3.9], [-3.62, -3.5, -3.75], [-3.48, -3.35, -3.65], [-3.34, -3.25, -3.5], [-3.2, -3.15, -3.35], [-3.06, -3.05, -3.2], [-2.92, -3.0]];
const bRows148 = [[-5.23, -5.2, -5.05], [-5.09, -5.05, -4.9], [-4.95, -4.95, -4.75], [-4.81, -4.8, -4.6], [-4.67, -4.65, -4.45], [-4.53, -4.55, -4.25], [-4.39, -4.45, -4.15], [-4.25, -4.3, -4.0], [-4.11, -4.2, -3.85], [-3.97, -4.05, -3.7], [-3.83, -3.95, -3.6], [-3.69, -3.8, -3.45], [-3.55, -3.7, -3.35], [-3.41, -3.55, -3.2], [-3.27, -3.4, -3.1], [-3.13, -3.25, -3.0]];
const bRows160 = [[-4.95, -4.85], [-4.85, -4.75], [-4.75, -4.65], [-4.65, -4.5], [-4.55, -4.45, -4.3], [-4.42, -4.3, -4.15], [-4.3, -4.25, -4.05], [-4.18, -4.1, -3.9], [-4.05, -4.0, -3.75], [-3.92, -3.9, -3.65], [-3.8, -3.75, -3.5], [-3.66, -3.65, -3.45], [-3.52, -3.55, -3.4], [-3.38, -3.4, -3.3], [-3.25, -3.3]];
const bRows175 = [[-4.85, -4.8, -4.65], [-4.72, -4.7, -4.5], [-4.6, -4.55, -4.35], [-4.47, -4.45, -4.2], [-4.35, -4.35, -4.1], [-4.22, -4.2, -3.95], [-4.1, -4.05, -3.8], [-3.97, -3.95, -3.7], [-3.85, -3.85, -3.6], [-3.72, -3.7, -3.45], [-3.6, -3.6, -3.4], [-3.47, -3.5, -3.35]];
const bRows190 = [[-4.7, -4.6], [-4.6, -4.5], [-4.5, -4.4], [-4.4, -4.3], [-4.3, -4.2], [-4.2, -4.05], [-4.1, -3.95], [-4.0, -3.85], [-3.9, -3.75], [-3.78, -3.65], [-3.66, -3.55], [-3.54, -3.5]];
const bRows215 = [[-4.35, -4.2], [-4.28, -4.1], [-4.18, -3.95], [-4.08, -3.9], [-3.98, -3.8]];

// box plots: [low whisker, Q1, median, Q3, high whisker]
const boxNames = ['UniKP', 'DLERKm'];
const rmseBoxes = [[0.771, 0.87, 0.915, 0.961, 1.068], [0.633, 0.725, 0.774, 0.81, 0.894]];
const rmseOutliers = [[0, 1.118], [1, 0.942]];
const maeBoxes = [[0.5685, 0.6255, 0.6535, 0.686, 0.752], [0.455, 0.5164, 0.5447, 0.5727, 0.6493]];
const maeOutliers = [[0, 0.519]];
const r2Boxes = [[-0.308, -0.034, 0.081, 0.172, 0.382], [0.214, 0.338, 0.422, 0.498, 0.638]];
const r2Outliers = [[0, -0.386], [0, -0.435], [1, 0.106], [1, 0.082]];
const pccBoxes = [[0.5428, 0.621, 0.6605, 0.6887, 0.7504], [0.6806, 0.7448, 0.7682, 0.7943, 0.851]];
const pccOutliers = [[1, 0.6627]];

// binned bars
const rangeLabels = ['−6.00', '−4.82', '−4.82', '−4.00', '−4.00', '−3.15', '−3.15', '−2.06'];
const gUniKP = [0.917, 0.763, 0.65, 1.246];
const gDLERKm = [0.778, 0.62, 0.591, 1.023];
const hUniKP = [0.668, 0.544, 0.484, 0.918];
const hDLERKm = [0.54, 0.461, 0.4325, 0.75];
const iUniKP = [0.145, 0.0422, 0.0528, 0.0506];
const iDLERKm = [0.2032, 0.0671, 0.0815, 0.2088];
const jUniKP = [0.3804, 0.2055, 0.2299, 0.2251];
const jDLERKm = [0.4509, 0.2601, 0.286, 0.4568];

const expand = (rows: number[][], d: number) => rows.flatMap(([x, ...ys]) => ys.map((y) => [x, y, d]));
const minus = (s: string) => s.replace('-', '−');

function buildOption() {
  const grid: any[] = [];
  const xAxis: any[] = [];
  const yAxis: any[] = [];
  const series: any[] = [];
  const graphic: any[] = [];
  const legend: any[] = [];

  const text = (t: string, x: number, y: number, size: number, rotation = 0, family = SERIF) =>
    graphic.push({
      type: 'text', x, y, rotation, z: 20,
      style: { text: t, fontFamily: family, fontSize: size, fill: '#111', textAlign: 'center', textVerticalAlign: 'middle' },
    });

  const line = (width = 5) => ({ show: true, onZero: false, lineStyle: { color: INK, width } });
  const tick = (customValues?: number[]) => ({ show: true, length: 8, lineStyle: { color: INK, width: 4 }, customValues });
  const valueAxis = (min: number, max: number, ticks: number[], labelStyle: any, digits = 0, showLabel = true) => ({
    type: 'value', min, max, splitLine: { show: false }, axisLine: line(), axisTick: tick(ticks),
    axisLabel: { show: showLabel, customValues: ticks, formatter: (v: number) => minus(v.toFixed(digits)), ...labelStyle },
  });
  const addGrid = (box: number[], xa: any, ya: any, frame = false) => {
    const i = grid.length;
    grid.push({ left: box[0], top: box[1], width: box[2] - box[0], height: box[3] - box[1], show: frame, borderColor: INK, borderWidth: 5 });
    xAxis.push({ gridIndex: i, ...xa });
    yAxis.push({ gridIndex: i, ...ya });
    return i;
  };

  const bigLabel = { fontFamily: SERIF, fontSize: 45, color: '#111', margin: 10 };
  const smallSans = { fontFamily: SANS, fontSize: 19, color: INK, margin: 6 };
  const barSans = { fontFamily: SANS, fontSize: 22, fontWeight: 'bold', color: INK, margin: 8 };
  const rangeLabel = { fontFamily: SERIF, fontSize: 26, color: '#111', margin: 8 };

  // joint plot: scatter + fit, top and right histograms, colour bar
  const joint = (p: any) => {
    const g = addGrid(p.main,
      valueAxis(p.xr[0], p.xr[1], [-6, -5, -4, -3, -2, -1, 0, 1, 2], bigLabel),
      valueAxis(p.yr[0], p.yr[1], p.yTicks, { ...bigLabel, margin: 8 }));
    series.push({
      type: 'scatter', xAxisIndex: g, yAxisIndex: g, data: p.points, symbolSize: 17,
      itemStyle: { opacity: 1 }, silent: true, z: 2,
    });
    p.lateLines.push({
      type: 'line', xAxisIndex: g, yAxisIndex: g, data: p.fit, symbol: 'none', z: 5, silent: true,
      lineStyle: { color: '#ee2b2e', width: p.fitWidth, type: p.fitDash, cap: 'butt' },
    });
    const t = addGrid(p.top,
      valueAxis(p.topXr[0], p.topXr[1], [-6, -5, -4, -3, -2, -1, 0, 1, 2], {}, 0, false),
      { type: 'value', min: 0, max: 180, show: false });
    p.lateLines.push({
      type: 'bar', xAxisIndex: t, yAxisIndex: t, barWidth: p.binWidth, silent: true,
      data: aTopBins.map((x, i) => [x, p.topCounts[i]]),
      itemStyle: { color: HIST, borderColor: INK, borderWidth: 6 },
    });
    const r = addGrid(p.right,
      { type: 'value', min: 0, max: 175, show: false },
      valueAxis(p.yr[0], p.yr[1], p.yTicks, {}, 0, false));
    p.lateLines.push({
      type: 'custom', xAxisIndex: r, yAxisIndex: r, silent: true,
      data: p.rightBins.map((y: number, i: number) => [p.rightCounts[i], y]),
      renderItem: (_: any, api: any) => {
        const a = api.coord([0, api.value(1) + p.rightBin / 2]);
        const b = api.coord([api.value(0), api.value(1) - p.rightBin / 2]);
        return { type: 'rect', shape: { x: a[0], y: a[1], width: b[0] - a[0], height: b[1] - a[1] }, style: { fill: HIST, stroke: INK, lineWidth: 6 } };
      },
    });
    const c = addGrid(p.bar,
      { type: 'category', data: ['d'], show: false },
      { ...valueAxis(p.barR[0], p.barR[1], p.barTicks, { fontFamily: SANS, fontSize: 27, color: INK, margin: 12 }, p.barDigits), position: 'right' }, true);
    yAxis[c].axisLine = { show: false };
    p.lateLines.push({
      type: 'bar', xAxisIndex: c, yAxisIndex: c, data: [p.barR[1]], barWidth: '100%', silent: true,
      itemStyle: {
        color: new echarts.graphic.LinearGradient(0, 0, 0, 1, VIRIDIS.slice().reverse().map((color, i) => ({ offset: i / 5, color }))),
      },
    });
  };

  const lateLines: any[] = [];
  joint({
    main: [115, 273, 1096, 1125], xr: [-6.43, 2.47], yr: [-6.71, 2.02], yTicks: [-6, -5, -4, -3, -2, -1, 0, 1],
    top: [115, 104, 1171, 243], topXr: [-6.43, 2.49], topCounts: aTopCounts, binWidth: 30.8,
    right: [1204, 273, 1388, 1125], rightBins: aRightBins, rightCounts: aRightCounts, rightBin: 0.234,
    bar: [1399, 241, 1445, 1125], barR: [0.001, 0.239], barTicks: [0.05, 0.1, 0.15, 0.2], barDigits: 2,
    fit: aFit, fitWidth: 11, fitDash: [11, 6], lateLines,
    points: [
      ...aOutliers.map(([x, y]) => [x, y, 0.012]), ...expand(aRows030, 0.03), ...expand(aRows050, 0.05), ...expand(aRows070, 0.07), ...expand(aRows078, 0.078), ...expand(aRows085, 0.085),
      ...expand(aRows105, 0.105), ...expand(aRows125, 0.125), ...expand(aRows140, 0.14), ...expand(aRows155, 0.155), ...expand(aRows170, 0.17),
      ...expand(aRows185, 0.185), ...expand(aRows200, 0.2), ...expand(aRows230, 0.23),
    ],
  });
  joint({
    main: [1788, 257, 2751, 1094], xr: [-6.416, 2.43], yr: [-6.3, 0.3], yTicks: [-6, -5, -4, -3, -2, -1, 0],
    top: [1788, 90, 2825, 229], topXr: [-6.41, 2.48], topCounts: bTopCounts, binWidth: 30.3,
    right: [2817, 257, 3000, 1094], rightBins: bRightBins, rightCounts: bRightCounts, rightBin: 0.2,
    bar: [3020, 232, 3066, 1098], barR: [0.001, 0.22], barTicks: [0.025, 0.05, 0.075, 0.1, 0.125, 0.15, 0.175, 0.2], barDigits: 3,
    fit: bFit, fitWidth: 10, fitDash: [10, 7], lateLines,
    points: [
      ...bOutliers.map(([x, y]) => [x, y, 0.012]), ...expand(bRows035, 0.035), ...expand(bRows050, 0.05), ...expand(bRows065, 0.065), ...expand(bRows075, 0.075), ...expand(bRows080, 0.08),
      ...expand(bRows095, 0.095), ...expand(bRows115, 0.115), ...expand(bRows130, 0.13), ...expand(bRows148, 0.148), ...expand(bRows160, 0.16),
      ...expand(bRows175, 0.175), ...expand(bRows190, 0.19), ...expand(bRows215, 0.215),
    ],
  });
  series.push(...lateLines);

  // box panels
  const boxFill = ['#9ecfdd', '#e87d82'];
  const boxEdge = ['#2558a8', '#7c1e24'];
  const boxPanel = (box: number[], yr: number[], ticks: number[], digits: number, labelStyle: any, boxes: number[][], outliers: number[][]) => {
    const g = addGrid(box,
      {
        type: 'category', data: boxNames, axisLine: line(6), axisTick: { ...tick(), alignWithLabel: true },
        axisLabel: { fontFamily: SERIF, fontSize: 43, color: '#111', margin: 18 },
      },
      valueAxis(yr[0], yr[1], ticks, labelStyle, digits), true);
    series.push({
      type: 'custom', xAxisIndex: g, yAxisIndex: g, silent: true, z: 3,
      data: boxes.map((b, i) => [i, ...b]),
      renderItem: (_: any, api: any) => {
        const i = api.value(0);
        const at = (d: number) => api.coord([i, api.value(d)]);
        const [cx, low] = at(1);
        const q1 = at(2)[1], med = at(3)[1], q3 = at(4)[1], high = at(5)[1];
        const ink = { stroke: INK, lineWidth: 7 };
        const seg = (x1: number, y1: number, x2: number, y2: number) => ({ type: 'line', shape: { x1, y1, x2, y2 }, style: ink });
        return {
          type: 'group',
          children: [
            seg(cx, low, cx, high), seg(cx - 16, low, cx + 16, low), seg(cx - 16, high, cx + 16, high),
            { type: 'rect', shape: { x: cx - 28, y: q3, width: 56, height: q1 - q3 }, style: { fill: boxFill[i], stroke: boxEdge[i], lineWidth: 7 } },
            seg(cx - 27, med, cx + 27, med),
          ],
        };
      },
    });
    series.push({
      type: 'scatter', xAxisIndex: g, yAxisIndex: g, data: outliers, symbol: 'circle', symbolSize: 12, silent: true, z: 3,
      itemStyle: { color: '#fff', borderColor: INK, borderWidth: 6 },
    });
  };
  boxPanel([107, 1367, 825, 1815], [0.61, 1.143], [0.7, 0.8, 0.9, 1.0, 1.1], 1, smallSans, rmseBoxes, rmseOutliers);
  boxPanel([933, 1368, 1641, 1817], [0.44, 0.767], [0.45, 0.5, 0.55, 0.6, 0.65, 0.7, 0.75], 2, smallSans, maeBoxes, maeOutliers);
  boxPanel([1752, 1376, 2456, 1825], [-0.492, 0.69], [-0.4, -0.2, 0, 0.2, 0.4, 0.6], 1, { fontFamily: SERIF, fontSize: 24, color: INK, margin: 6 }, r2Boxes, r2Outliers);
  boxPanel([2565, 1376, 3272, 1825], [0.5275, 0.866], [0.55, 0.6, 0.65, 0.7, 0.75, 0.8, 0.85], 2, { ...smallSans, fontWeight: 'bold' }, pccBoxes, pccOutliers);

  // grouped bar panels
  const barPanel = (p: any) => {
    const g = addGrid(p.box,
      {
        type: 'value', min: 0, max: 4, splitLine: { show: false }, axisLine: line(6), axisTick: tick(p.ticks),
        axisLabel: { ...rangeLabel, customValues: p.labelAt, formatter: (v: number) => rangeLabels[p.labelAt.indexOf(v)] },
      },
      valueAxis(0, p.ymax, p.yTicks, barSans, p.digits), true);
    [p.a, p.b].forEach((s: any) => {
      series.push({
        type: 'bar', name: s.name, xAxisIndex: g, yAxisIndex: g, barWidth: 73, barGap: 0, silent: true,
        data: p.centers.map((c: number, i: number) => [c, s.values[i]]),
        itemStyle: { color: s.color, borderColor: INK, borderWidth: 7 },
      });
    });
    legend.push({
      data: [p.a.name, p.b.name], left: p.legend[0], top: p.legend[1], orient: 'vertical', selectedMode: false, icon: 'rect',
      itemWidth: 44, itemHeight: 22, itemGap: 1, padding: [8, 8, 8, 8], backgroundColor: '#fff',
      borderColor: '#d2d3d5', borderWidth: 6, borderRadius: 6, itemStyle: { borderColor: INK, borderWidth: 6 },
      textStyle: { fontFamily: SERIF, fontSize: 33, color: '#222', padding: [0, 0, 0, 6] },
    });
  };
  barPanel({
    box: [147, 1974, 1597, 2769], ymax: 1.307, yTicks: [0, 0.2, 0.4, 0.6, 0.8, 1.0, 1.2], digits: 1,
    centers: [0.502, 1.5, 2.5, 3.5], ticks: [0.502, 1.5, 2.5, 3.5],
    labelAt: [0.276, 0.691, 1.277, 1.692, 2.29, 2.691, 3.292, 3.69], legend: [150, 1980],
    a: { name: 'UniKP RMSE', values: gUniKP, color: '#7ac5e0' }, b: { name: 'DLERKm RMSE', values: gDLERKm, color: '#e87d82' },
  });
  barPanel({
    box: [1776, 1980, 3226, 2776], ymax: 0.9626, yTicks: [0, 0.2, 0.4, 0.6, 0.8], digits: 1,
    centers: [0.46, 1.456, 2.5, 3.5], ticks: [0.46, 1.456, 2.5, 3.5],
    labelAt: [0.2315, 0.645, 1.23, 1.644, 2.275, 2.69, 3.265, 3.693], legend: [1786, 1994],
    a: { name: 'UniKP MAE', values: hUniKP, color: '#9163a8' }, b: { name: 'DLERKm MAE', values: hDLERKm, color: '#f3ca37' },
  });
  barPanel({
    box: [147, 2909, 1614, 3729], ymax: 0.2192, yTicks: [0, 0.025, 0.05, 0.075, 0.1, 0.125, 0.15, 0.175, 0.2], digits: 3,
    centers: [0.499, 1.497, 2.497, 3.498], ticks: [0.499, 1.497, 2.497, 3.498],
    labelAt: [0.272, 0.682, 1.262, 1.672, 2.263, 2.658, 3.292, 3.645], legend: [1095, 2938],
    a: { name: 'UniKP  R²', values: iUniKP, color: '#90cd91' }, b: { name: 'DLERKm    R²', values: iDLERKm, color: '#c29a6a' },
  });
  barPanel({
    box: [1778, 2914, 3272, 3734], ymax: 0.4793, yTicks: [0, 0.1, 0.2, 0.3, 0.4], digits: 1,
    centers: [0.4997, 1.499, 2.498, 3.498], ticks: [0.536, 1.533, 2.532, 3.53],
    labelAt: [0.255, 0.68, 1.277, 1.693, 2.263, 2.703, 3.298, 3.672], legend: [2746, 2938],
    a: { name: 'UniKP PCC', values: jUniKP, color: '#f8f8dc' }, b: { name: 'DLERKm PCC', values: jDLERKm, color: '#9ecfdd' },
  });

  // titles, panel letters, axis names
  const UP = Math.PI / 2;
  text('DLERKm', 623, 80, 61);
  text('UniKP', 2313, 82, 70);
  ([['A', 91, 42], ['B', 1771, 42], ['C', 96, 1296], ['D', 879, 1296], ['E', 1674, 1296], ['F', 2496, 1296], ['G', 97, 1928], ['H', 1689, 1932], ['I', 76, 2860], ['J', 1681, 2860]] as [string, number, number][])
    .forEach(([t, x, y]) => text(t, x, y, 60));
  const KM_X = 'Log10[experimental Km value]';
  const KM_Y = 'Log10[predicted Km value]';
  text(KM_X, 618, 1201, 45);
  text(KM_Y, 39, 673, 45, UP);
  text(KM_X, 2284, 1181, 45);
  text(KM_Y, 1700, 675, 45, UP);
  text('Density Heat Level', 1551, 673, 43, -UP);
  text('Density Heat Level', 3197, 659, 43, -UP);
  text('RMSE', 48, 1573, 43, UP);
  text('MAE', 857, 1573, 43, UP);
  text('R²', 1682, 1573, 43, UP);
  text('PCC', 2484, 1573, 43, UP);
  text('RMSE', 48, 2368, 43, UP);
  text('MAE', 1677, 2368, 43, UP);
  text('R²', 48, 3360, 43, UP);
  text('PCC', 1677, 3322, 43, UP);
  text(KM_X, 828, 2856, 45);
  text(KM_X, 2492, 2850, 45);
  text(KM_X, 882, 3796, 45);
  text(KM_X, 2531, 3796, 45);

  // stats boxes
  const stats = (lines: string[], x: number, ys: number[]) =>
    lines.forEach((t, i) =>
      graphic.push({
        type: 'text', x, y: ys[i], z: 20,
        style: {
          text: t, fontFamily: SANS, fontSize: 22, fill: '#111', textAlign: 'left', textVerticalAlign: 'middle',
          rich: { i: { fontFamily: SANS, fontSize: 22, fontStyle: 'italic', fill: '#111' } },
        },
      }));
  stats(['RMSE: 0.7711', 'MAE: 0.5454', 'Pearson r: 0.7706', '{i|R}²: 0.5938', 'N: 2025'], 142, [257, 283, 309, 337, 364]);
  stats(['RMSE: 0.9218', 'MAE: 0.6529', 'Pearson r: 0.6553', '{i|R}²: 0.4294', 'N: 2025'], 1812, [240, 266, 292, 318, 345]);

  return {
    animation: false,
    backgroundColor: '#fff',
    grid, xAxis, yAxis, series, graphic, legend,
    visualMap: [
      { type: 'continuous', show: false, seriesIndex: 0, dimension: 2, min: 0.001, max: 0.239, inRange: { color: VIRIDIS } },
      { type: 'continuous', show: false, seriesIndex: 1, dimension: 2, min: 0.001, max: 0.22, inRange: { color: VIRIDIS } },
    ],
  };
}

export default function App() {
  const chartRef = useRef<HTMLDivElement>(null);

  useEffect(() => {
    const chart = echarts.init(chartRef.current!, undefined, { renderer: 'svg' });
    chart.setOption(buildOption() as any);
    return () => chart.dispose();
  }, []);

  return <div ref={chartRef} style={{ position: 'absolute', left: 0, top: 0, width: 3295, height: 3840 }} />;
}
